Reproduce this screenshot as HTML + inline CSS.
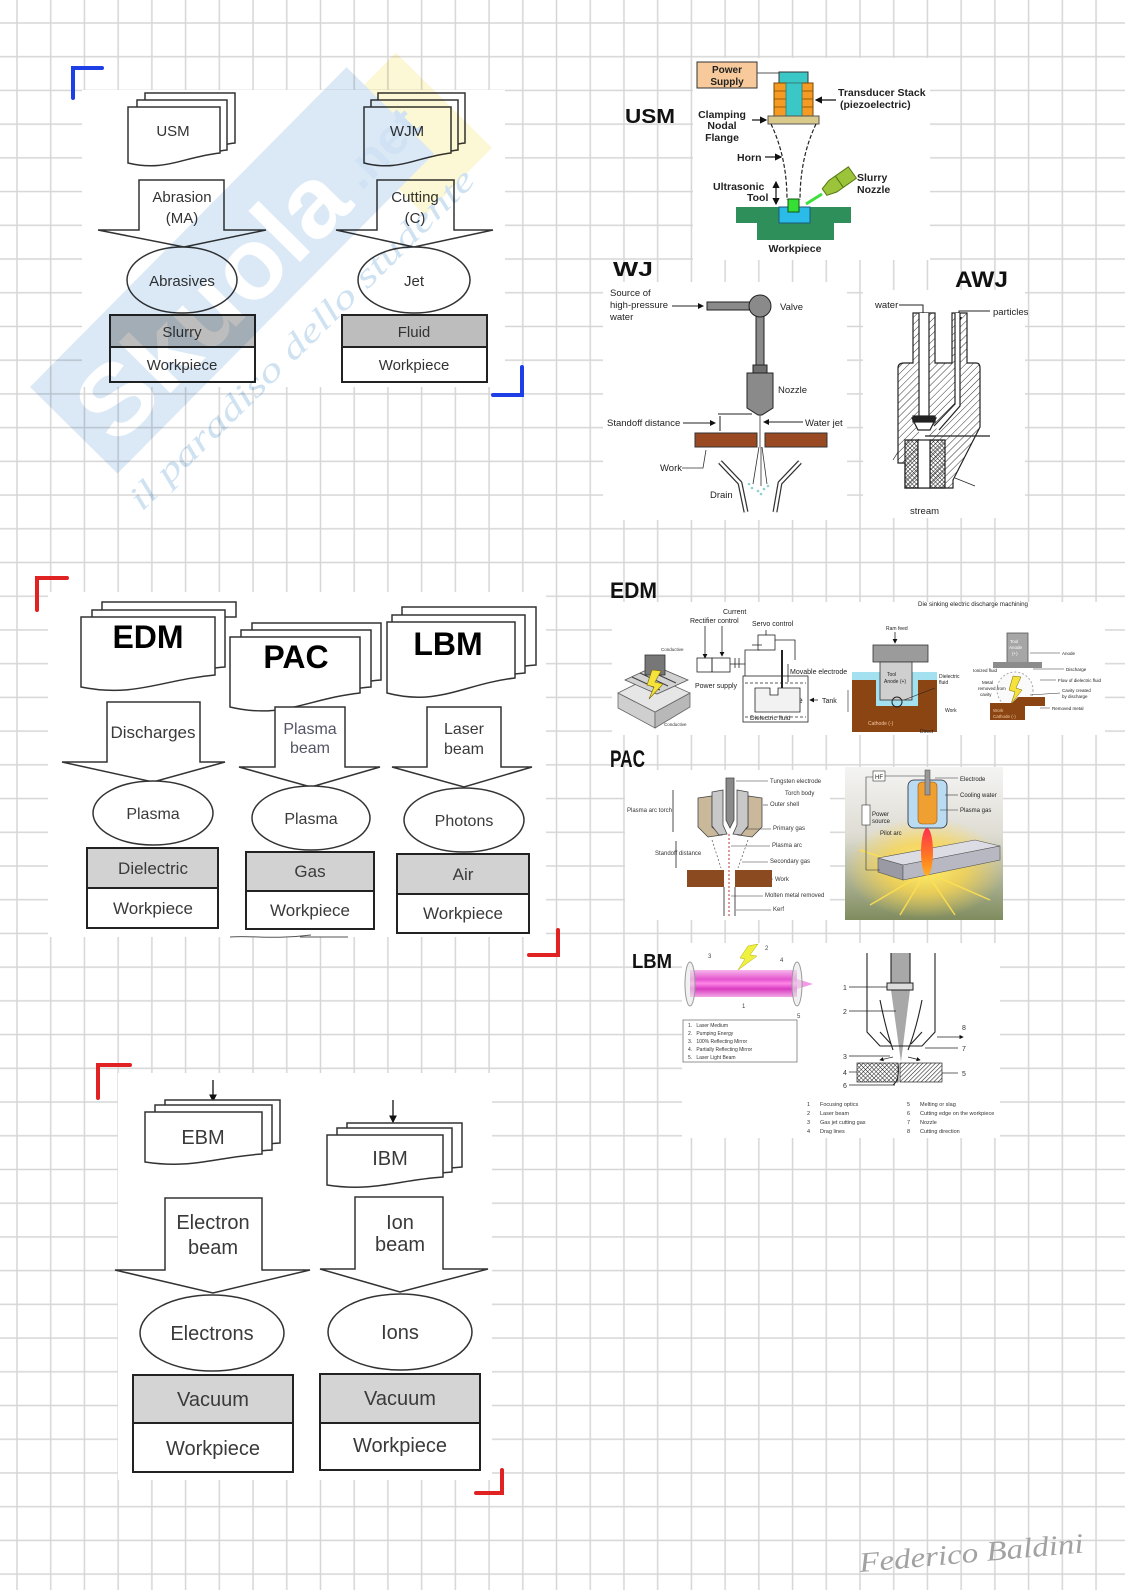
<!DOCTYPE html>
<html><head><meta charset="utf-8">
<style>
html,body{margin:0;padding:0;background:#fff;}
svg{display:block;}
text{font-family:"Liberation Sans",Arial,sans-serif;}
.ser{font-family:"Liberation Serif","Times New Roman",serif;}
.hw{font-family:"Liberation Sans",Arial,sans-serif;font-weight:bold;fill:#111;}
</style></head><body>
<svg width="1125" height="1590" viewBox="0 0 1125 1590" xmlns="http://www.w3.org/2000/svg">
<defs>
<pattern id="grid" x="15.5" y="21.5" width="33.72" height="33.72" patternUnits="userSpaceOnUse">
<path d="M1.5 0V33.72M0 1.5H33.72" stroke="#d6d6d6" stroke-width="1.5" fill="none"/>
</pattern>
<pattern id="hatch" width="5" height="5" patternUnits="userSpaceOnUse" patternTransform="rotate(45)">
<line x1="0" y1="0" x2="0" y2="5" stroke="#333" stroke-width="1"/>
</pattern>
<pattern id="xhatch" width="3" height="3" patternUnits="userSpaceOnUse" patternTransform="rotate(45)">
<path d="M0 0V3M0 0H3" stroke="#222" stroke-width="1"/>
</pattern>
<pattern id="dhatch" width="3" height="3" patternUnits="userSpaceOnUse" patternTransform="rotate(45)">
<line x1="0" y1="0" x2="0" y2="3" stroke="#222" stroke-width="1.2"/>
</pattern>
<marker id="ar" markerWidth="6" markerHeight="6" refX="5" refY="3" orient="auto"><path d="M0 0L6 3L0 6Z" fill="#111"/></marker>
<linearGradient id="pacbg" x1="0" y1="0" x2="0" y2="1"><stop offset="0" stop-color="#f4f4f4"/><stop offset="0.45" stop-color="#dedcd2"/><stop offset="1" stop-color="#7f8c5e"/></linearGradient>
<radialGradient id="glow" cx="0.5" cy="0.5" r="0.5"><stop offset="0" stop-color="#fff36a"/><stop offset="0.5" stop-color="#ffd84a" stop-opacity="0.75"/><stop offset="1" stop-color="#ffd84a" stop-opacity="0"/></radialGradient>
<linearGradient id="flame" x1="0" y1="0" x2="0" y2="1"><stop offset="0" stop-color="#ff3050"/><stop offset="0.6" stop-color="#ff7a20"/><stop offset="1" stop-color="#ffb020"/></linearGradient>
<linearGradient id="pink" x1="0" y1="0" x2="0" y2="1"><stop offset="0" stop-color="#f7b5ec"/><stop offset="0.35" stop-color="#e455cf"/><stop offset="0.5" stop-color="#ff86e8"/><stop offset="0.7" stop-color="#d83cc0"/><stop offset="1" stop-color="#f3a8e6"/></linearGradient>
</defs>

<rect width="1125" height="1590" fill="#fff"/>
<rect width="1125" height="1590" fill="url(#grid)"/>

<g fill="#fff">
<rect x="82" y="90" width="423" height="297"/>
<rect x="693" y="58" width="237" height="202"/>
<rect x="603" y="282" width="244" height="238"/>
<rect x="863" y="290" width="162" height="228"/>
<rect x="48" y="592" width="498" height="345"/>
<rect x="612" y="602" width="493" height="133"/>
<rect x="625" y="770" width="205" height="150"/>
<rect x="682" y="943" width="318" height="195"/>
<rect x="118" y="1073" width="374" height="407"/>
</g>

<!-- ========== TOP LEFT: USM / WJM ========== -->
<path d="M73 98V68H102" stroke="#1f3fe6" stroke-width="4" fill="none" stroke-linecap="round"/>
<path d="M522 367V395H493" stroke="#1f3fe6" stroke-width="4" fill="none" stroke-linecap="round"/>
<g fill="#fff" stroke="#333" stroke-width="1.5">
<path d="M145 93H235V143C199 147 181 162 145 153Z"/>
<path d="M137 100H227V150C191 154 173 169 137 160Z"/>
<path d="M128 107H220V153C183.2 157 164.8 172 128 163Z"/>
<path d="M378 93H465V143C430.2 147 412.8 162 378 153Z"/>
<path d="M371 100H458V150C423.2 154 405.8 169 371 160Z"/>
<path d="M364 107H451V153C416.2 157 398.8 172 364 163Z"/>
<polygon points="139,180 224,180 224,230 266,230 184,247 98,230 139,230"/>
<polygon points="377,180 454,180 454,230 493,230 414,247 336,230 377,230"/>
<ellipse cx="182" cy="280" rx="55" ry="33"/>
<ellipse cx="414" cy="280" rx="56" ry="33"/>
</g>
<g stroke="#222" stroke-width="2">
<rect x="110" y="315" width="145" height="32" fill="#bdbdbd"/>
<rect x="110" y="347" width="145" height="35" fill="#fff"/>
<rect x="342" y="315" width="145" height="32" fill="#bdbdbd"/>
<rect x="342" y="347" width="145" height="35" fill="#fff"/>
</g>
<g font-size="15" fill="#333" text-anchor="middle">
<text x="173" y="136">USM</text>
<text x="407" y="136">WJM</text>
<text x="182" y="202">Abrasion</text>
<text x="182" y="223">(MA)</text>
<text x="415" y="202">Cutting</text>
<text x="415" y="223">(C)</text>
<text x="182" y="286">Abrasives</text>
<text x="414" y="286">Jet</text>
<text x="182" y="337">Slurry</text>
<text x="182" y="370">Workpiece</text>
<text x="414" y="337">Fluid</text>
<text x="414" y="370">Workpiece</text>
</g>

<!-- ========== USM diagram (top right) ========== -->
<text class="hw" x="625" y="123" font-size="20" textLength="50" lengthAdjust="spacingAndGlyphs">USM</text>
<rect x="697" y="62" width="60" height="26" fill="#f7c99b" stroke="#333"/>
<g font-size="10" font-weight="bold" text-anchor="middle" fill="#222">
<text x="727" y="73">Power</text><text x="727" y="85">Supply</text></g>
<line x1="757" y1="73" x2="779" y2="73" stroke="#555"/>
<rect x="779" y="72" width="29" height="11" fill="#3cc7c7" stroke="#333"/>
<rect x="774" y="83" width="39" height="33" fill="#f59b23" stroke="#7a4a00"/>
<g stroke="#7a4a00" stroke-width="0.8"><line x1="774" y1="91" x2="813" y2="91"/><line x1="774" y1="99" x2="813" y2="99"/><line x1="774" y1="107" x2="813" y2="107"/></g>
<rect x="786" y="83" width="16" height="33" fill="#3cc7c7" stroke="#2a7a7a" stroke-width="0.8"/>
<rect x="768" y="116" width="51" height="8" fill="#d9c98a" stroke="#555"/>
<g stroke="#222" stroke-width="1.2" fill="none" stroke-dasharray="4 2">
<path d="M771 124C781 145 787 170 787 200"/><path d="M816 124C806 145 800 170 800 200"/></g>
<rect x="736" y="207" width="115" height="16" fill="#2f8f5b"/>
<rect x="757" y="223" width="77" height="17" fill="#2f8f5b"/>
<rect x="779" y="207" width="31" height="16" fill="#2bbbe8" stroke="#1a5a7a"/>
<rect x="788" y="199" width="11" height="13" fill="#35e035" stroke="#115511"/>
<line x1="806" y1="204" x2="822" y2="194" stroke="#3de03d" stroke-width="3"/>
<g transform="translate(836,184) rotate(-35)">
<polygon points="-14,-4 -4,-7 20,-7 20,7 -4,7 -14,4" fill="#9bc43a" stroke="#557711"/>
<line x1="4" y1="-7" x2="4" y2="7" stroke="#557711"/></g>
<g font-size="10.5" font-weight="bold" fill="#222">
<text x="838" y="96">Transducer Stack</text>
<text x="840" y="108">(piezoelectric)</text>
<text x="722" y="118" text-anchor="middle">Clamping</text>
<text x="722" y="129" text-anchor="middle">Nodal</text>
<text x="722" y="141" text-anchor="middle">Flange</text>
<text x="737" y="161">Horn</text>
<text x="713" y="190">Ultrasonic</text>
<text x="747" y="201">Tool</text>
<text x="857" y="181">Slurry</text>
<text x="857" y="193">Nozzle</text>
<text x="795" y="252" text-anchor="middle">Workpiece</text>
</g>
<g stroke="#111" stroke-width="1.2" marker-end="url(#ar)">
<line x1="836" y1="100" x2="816" y2="100"/>
<line x1="752" y1="120" x2="766" y2="120"/>
<line x1="765" y1="157" x2="781" y2="157"/>
<line x1="776" y1="193" x2="776" y2="182"/>
<line x1="776" y1="193" x2="776" y2="204"/>
</g>

<!-- ========== WJ ========== -->
<text class="hw" x="613" y="276" font-size="20" textLength="40" lengthAdjust="spacingAndGlyphs">WJ</text>
<g font-size="9.5" fill="#222">
<text x="610" y="296">Source of</text><text x="610" y="308">high-pressure</text><text x="610" y="320">water</text>
<text x="780" y="310">Valve</text><text x="778" y="393">Nozzle</text>
<text x="607" y="426">Standoff distance</text><text x="805" y="426">Water jet</text>
<text x="660" y="471">Work</text><text x="710" y="498">Drain</text>
</g>
<g stroke="#222" stroke-width="1" marker-end="url(#ar)">
<line x1="672" y1="306" x2="703" y2="306"/>
<line x1="683" y1="423" x2="715" y2="423"/>
<line x1="803" y1="422" x2="764" y2="422"/>
</g>
<rect x="707" y="302" width="46" height="8" fill="#8a8a8a" stroke="#222"/>
<rect x="756" y="316" width="8" height="49" fill="#8a8a8a" stroke="#222"/>
<circle cx="760" cy="306" r="11" fill="#8a8a8a" stroke="#222"/>
<rect x="753" y="365" width="14" height="8" fill="#6e6e6e" stroke="#222"/>
<path d="M747 373H773V408L762 415H758L747 408Z" fill="#8a8a8a" stroke="#222"/>
<line x1="718" y1="414" x2="752" y2="414" stroke="#222"/>
<g stroke="#222"><line x1="720" y1="416" x2="720" y2="431"/></g>
<rect x="695" y="433" width="62" height="14" fill="#9a4a22" stroke="#333"/>
<rect x="765" y="433" width="62" height="14" fill="#9a4a22" stroke="#333"/>
<g stroke="#333" stroke-width="0.8" fill="none">
<line x1="760" y1="415" x2="760" y2="447"/>
<path d="M759 447L753 484M761 447L761 486M762 447L767 484"/>
<path d="M682 468H703L706 450"/>
</g>
<g fill="#8fd0d0"><circle cx="752" cy="488" r="1.3"/><circle cx="758" cy="491" r="1.3"/><circle cx="764" cy="489" r="1.3"/><circle cx="768" cy="486" r="1.3"/><circle cx="749" cy="484" r="1.3"/><circle cx="761" cy="494" r="1.3"/></g>
<g fill="none" stroke-linejoin="round">
<polyline points="720,462 740,483 746,512" stroke="#333" stroke-width="5"/>
<polyline points="720,462 740,483 746,512" stroke="#fff" stroke-width="2.5"/>
<polyline points="800,462 780,483 775,512" stroke="#333" stroke-width="5"/>
<polyline points="800,462 780,483 775,512" stroke="#fff" stroke-width="2.5"/>
</g>

<!-- ========== AWJ ========== -->
<text class="hw" x="955" y="287" font-size="22" textLength="53" lengthAdjust="spacingAndGlyphs">AWJ</text>
<g font-size="9.5" fill="#222"><text x="875" y="308">water</text><text x="993" y="315">particles</text><text x="910" y="514">stream</text></g>
<path d="M899 305H923V322" stroke="#222" fill="none" marker-end="url(#ar)"/>
<path d="M990 311H959V322" stroke="#222" fill="none" marker-end="url(#ar)"/>
<g stroke="#222" stroke-width="1.2">
<path d="M898 368Q898 363 904 363H913V313H935V363H952V313H967V363H976Q980 363 980 368V427L953 480V488H905V463H898Z" fill="url(#hatch)"/>
<rect x="919" y="313" width="10" height="150" fill="#fff" stroke="none"/>
<line x1="919" y1="313" x2="919" y2="420"/><line x1="929" y1="313" x2="929" y2="420"/>
<path d="M957 313V405L936 428" fill="none" stroke="#fff" stroke-width="5"/>
<path d="M955 313V404L934 426M960 313V406L939 430" fill="none"/>
<polygon points="912,418 936,418 930,430 918,430" fill="#fff"/>
<rect x="913" y="416" width="22" height="6" fill="#222"/>
<polygon points="905,440 918,440 918,488 905,488" fill="url(#xhatch)"/>
<polygon points="930,440 945,440 945,488 930,488" fill="url(#xhatch)"/>
<rect x="918" y="440" width="12" height="48" fill="#fff"/>
<line x1="925" y1="436" x2="990" y2="436"/>
<line x1="893" y1="460" x2="898" y2="452" stroke-width="0.7"/>
<line x1="955" y1="478" x2="975" y2="486" stroke-width="0.7"/>
</g>

<!-- ========== EDM / PAC / LBM left block ========== -->
<path d="M37 610V578H67" stroke="#e02222" stroke-width="4" fill="none" stroke-linecap="round"/>
<path d="M558 930V955H529" stroke="#e02222" stroke-width="4" fill="none" stroke-linecap="round"/>
<g fill="#fff" stroke="#333" stroke-width="1.5">
<rect x="102" y="602" width="134" height="15"/>
<path d="M92 610H225V667C171.8 671 145.2 686 92 677Z"/>
<path d="M81 617H215V675C161.4 679.8 134.6 697.8 81 687Z"/>
<path d="M252 623H381V680C329.4 684 303.6 699 252 690Z"/>
<path d="M241 630H371V687C319 691 293 706 241 697Z"/>
<path d="M230 637H360V693C308 698.6 282 719.6 230 707Z"/>
<path d="M402 607H536V665C482.4 669 455.6 684 402 675Z"/>
<path d="M392 615H525V673C471.8 677 445.2 692 392 683Z"/>
<path d="M387 622H515V678C463.8 684 438.2 706.5 387 693Z"/>
<polygon points="107,702 200,702 200,762 225,762 153,782 62,762 107,762"/>
<polygon points="275,707 345,707 345,767 380,767 311,787 239,767 275,767"/>
<polygon points="427,707 501,707 501,767 532,767 464,787 392,767 427,767"/>
<ellipse cx="153" cy="813" rx="60" ry="32"/>
<ellipse cx="311" cy="818" rx="59" ry="32"/>
<ellipse cx="464" cy="820" rx="60" ry="32"/>
</g>
<g stroke="#222" stroke-width="2">
<rect x="87" y="848" width="131" height="40" fill="#d2d2d2"/><rect x="87" y="888" width="131" height="40" fill="#fff"/>
<rect x="246" y="852" width="128" height="39" fill="#d2d2d2"/><rect x="246" y="891" width="128" height="38" fill="#fff"/>
<rect x="397" y="854" width="132" height="40" fill="#d2d2d2"/><rect x="397" y="894" width="132" height="39" fill="#fff"/>
</g>
<path d="M230 937C250 935 272 940 311 935M300 937H348" stroke="#555" fill="none"/>
<g font-weight="bold" fill="#000" text-anchor="middle">
<text x="148" y="648" font-size="32">EDM</text>
<text x="296" y="668" font-size="32">PAC</text>
<text x="448" y="655" font-size="32">LBM</text>
</g>
<g font-size="17" fill="#3a3a3a" text-anchor="middle">
<text x="153" y="738">Discharges</text>
<text x="310" y="734" fill="#556" font-size="16">Plasma</text>
<text x="310" y="753" fill="#556" font-size="16">beam</text>
<text x="464" y="734" font-size="16">Laser</text>
<text x="464" y="754" font-size="16">beam</text>
<text x="153" y="819" font-size="16">Plasma</text>
<text x="311" y="824" font-size="16">Plasma</text>
<text x="464" y="826" font-size="16">Photons</text>
<text x="153" y="874">Dielectric</text>
<text x="153" y="914">Workpiece</text>
<text x="310" y="877">Gas</text>
<text x="310" y="916">Workpiece</text>
<text x="463" y="880">Air</text>
<text x="463" y="919">Workpiece</text>
</g>

<!-- ========== EDM right ========== -->
<text class="hw" x="610" y="598" font-size="22" textLength="47" lengthAdjust="spacingAndGlyphs">EDM</text>
<polygon points="618,708 655,728 655,712 618,693" fill="#cfcfcf" stroke="#666" stroke-width="0.8"/>
<polygon points="655,712 690,693 690,707 655,728" fill="#b8b8b8" stroke="#666" stroke-width="0.8"/>
<polygon points="618,693 652,676 690,693 655,712" fill="#e6e6e6" stroke="#666" stroke-width="0.8"/>
<polygon points="625,680 655,666 688,680 657,694" fill="#d2d2d2" stroke="#555" stroke-width="0.8"/>
<g stroke="#444" stroke-width="1.2"><line x1="632" y1="677" x2="660" y2="690"/><line x1="640" y1="673" x2="668" y2="686"/><line x1="648" y1="670" x2="676" y2="683"/></g>
<rect x="645" y="655" width="20" height="20" fill="#777" stroke="#333" stroke-width="0.8"/>
<polygon points="652,670 661,671 655,682 663,684 649,699 654,687 647,685" fill="#f5e23a" stroke="#776600" stroke-width="0.6"/>
<g font-size="4.5" fill="#333"><text x="661" y="651">Conductive</text><text x="664" y="726">Conductive</text></g>
<g class="ser" font-size="7" fill="#222">
<text x="723" y="614">Current</text><text x="690" y="623">Rectifier control</text>
<text x="752" y="626">Servo control</text><text x="790" y="674">Movable electrode</text>
<text x="695" y="688">Power supply</text><text x="765" y="703" font-size="8">Workpiece</text>
<text x="750" y="720" font-size="6.5">Dielectric fluid</text><text x="822" y="703">Tank</text>
</g>
<g stroke="#222" stroke-width="0.8" fill="none">
<line x1="705" y1="626" x2="705" y2="658" marker-end="url(#ar)"/>
<line x1="722" y1="626" x2="722" y2="656" marker-end="url(#ar)"/>
<rect x="697" y="658" width="15" height="14"/>
<rect x="712" y="658" width="18" height="14"/>
<path d="M730 664H745V650H760M745 664V676M735 658V668M739 658V668"/>
<rect x="758" y="635" width="17" height="15"/>
<path d="M775 640H795V660M766 630V635M762 645H752"/>
<line x1="782" y1="650" x2="782" y2="690" stroke-width="2"/>
<rect x="743" y="676" width="65" height="46"/>
<path d="M745 683H806M745 717H806" stroke-dasharray="3 2"/>
<path d="M755 688H770V695H778V688H800V712H755Z" fill="#f2f2f2"/>
<line x1="818" y1="700" x2="810" y2="700" marker-end="url(#ar)"/>
<line x1="788" y1="664" x2="788" y2="682"/>
</g>
<text x="918" y="606" font-size="6.5" fill="#222" textLength="110" lengthAdjust="spacingAndGlyphs">Die sinking electric discharge machining</text>
<text x="886" y="630" font-size="5" fill="#222">Ram feed</text>
<line x1="895" y1="632" x2="895" y2="643" stroke="#222" stroke-width="0.8" marker-end="url(#ar)"/>
<rect x="852" y="672" width="85" height="10" fill="#a3e0f0"/>
<path d="M852 680H876V706H918V680H937V732H852Z" fill="#8b4513"/>
<rect x="876" y="680" width="42" height="26" fill="#a3e0f0"/>
<rect x="873" y="645" width="55" height="17" fill="#9b9b9b" stroke="#333" stroke-width="0.8"/>
<rect x="880" y="662" width="32" height="38" fill="#cfcfcf" stroke="#333" stroke-width="0.8"/>
<circle cx="897" cy="702" r="5" fill="none" stroke="#222"/>
<g font-size="5" fill="#222"><text x="887" y="676">Tool</text><text x="884" y="683">Anode (+)</text>
<text x="939" y="678">Dielectric</text><text x="939" y="684">fluid</text><text x="945" y="712">Work</text><text x="920" y="733">Direct</text></g>
<text x="868" y="725" font-size="5" fill="#f4c8a0">Cathode (-)</text>
<line x1="904" y1="700" x2="935" y2="688" stroke="#222" stroke-width="0.6"/>
<line x1="848" y1="690" x2="848" y2="712" stroke="#222" stroke-width="0.6"/>
<rect x="1007" y="633" width="21" height="30" fill="#a6a6a6" stroke="#555" stroke-width="0.8"/>
<g font-size="4.5" fill="#fff"><text x="1010" y="643">Tool</text><text x="1009" y="649">Anode</text><text x="1012" y="655">(+)</text></g>
<rect x="993" y="662" width="49" height="6" fill="#8c8c8c"/>
<circle cx="1015" cy="690" r="18" fill="#fafafa" stroke="#aaa" stroke-dasharray="2 2"/>
<polygon points="1013,676 1021,677 1016,688 1022,690 1011,704 1015,692 1009,690" fill="#f5e23a" stroke="#776600" stroke-width="0.5"/>
<path d="M990 703H1012L1018 697H1045V706H1025V720H990Z" fill="#8b4513"/>
<g font-size="4.5" fill="#f4c8a0"><text x="993" y="712">Work</text><text x="993" y="718">Cathode (-)</text></g>
<g font-size="4.5" fill="#222">
<text x="1062" y="655">Anode</text><text x="1066" y="671">Discharge</text><text x="1058" y="682">Flow of dielectric fluid</text>
<text x="1062" y="692">Cavity created</text><text x="1062" y="698">by discharge</text><text x="1052" y="710">Removed metal</text>
<text x="973" y="672">Ionized fluid</text><text x="982" y="684">Metal</text><text x="978" y="690">removed from</text><text x="980" y="696">cavity</text>
</g>
<g stroke="#333" stroke-width="0.5"><line x1="1030" y1="653" x2="1060" y2="653"/><line x1="1033" y1="669" x2="1064" y2="669"/><line x1="1040" y1="680" x2="1056" y2="680"/><line x1="1030" y1="695" x2="1060" y2="693"/><line x1="1040" y1="708" x2="1050" y2="708"/></g>

<!-- ========== PAC right ========== -->
<text class="hw" x="610" y="767" font-size="24" textLength="35" lengthAdjust="spacingAndGlyphs">PAC</text>
<g stroke="#444" stroke-width="0.8">
<polygon points="698,798 712,796 712,827 722,835 708,837 698,827" fill="#c9b89a"/>
<polygon points="762,798 748,796 748,827 738,835 752,837 762,827" fill="#c9b89a"/>
<polygon points="712,792 723,790 723,825 727,834 719,835 712,826" fill="#c8c8c8"/>
<polygon points="748,792 737,790 737,825 733,834 741,835 748,826" fill="#c8c8c8"/>
<polygon points="726,778 734,778 734,820 730,828 726,820" fill="#8a8a8a"/>
</g>
<line x1="729" y1="834" x2="729" y2="916" stroke="#c03030" stroke-dasharray="2 2"/>
<g stroke="#555" stroke-width="0.7" stroke-dasharray="2 2"><line x1="712" y1="840" x2="721" y2="868"/><line x1="748" y1="840" x2="738" y2="868"/></g>
<rect x="687" y="870" width="37" height="17" fill="#8b4a20"/>
<rect x="735" y="870" width="37" height="17" fill="#8b4a20"/>
<g stroke="#222" stroke-width="0.8"><line x1="724" y1="887" x2="724" y2="916"/><line x1="735" y1="887" x2="735" y2="916"/>
<line x1="673" y1="790" x2="673" y2="832"/><line x1="676" y1="841" x2="676" y2="868"/></g>
<g font-size="6" fill="#333">
<text x="770" y="783">Tungsten electrode</text><text x="785" y="795">Torch body</text><text x="770" y="806">Outer shell</text>
<text x="773" y="830">Primary gas</text><text x="772" y="847">Plasma arc</text><text x="770" y="863">Secondary gas</text>
<text x="775" y="881">Work</text><text x="765" y="897">Molten metal removed</text><text x="773" y="911">Kerf</text>
<text x="627" y="812">Plasma arc torch</text><text x="655" y="855">Standoff distance</text>
</g>
<g stroke="#333" stroke-width="0.6">
<line x1="736" y1="781" x2="768" y2="781"/><line x1="763" y1="805" x2="768" y2="805"/><line x1="745" y1="829" x2="771" y2="829"/>
<line x1="731" y1="846" x2="770" y2="846"/><line x1="742" y1="862" x2="768" y2="862"/><line x1="772" y1="879" x2="773" y2="879"/>
<line x1="731" y1="896" x2="763" y2="896"/><line x1="736" y1="910" x2="771" y2="910"/>
</g>
<rect x="845" y="767" width="158" height="153" fill="url(#pacbg)"/>
<ellipse cx="925" cy="868" rx="80" ry="50" fill="url(#glow)"/>
<g stroke="#ffe050" stroke-width="1.5" opacity="0.9">
<line x1="926" y1="872" x2="870" y2="905"/><line x1="926" y1="872" x2="900" y2="915"/><line x1="926" y1="872" x2="955" y2="915"/><line x1="926" y1="872" x2="990" y2="900"/><line x1="926" y1="872" x2="995" y2="845"/><line x1="926" y1="872" x2="860" y2="850"/></g>
<polygon points="878,858 975,840 1000,846 903,865" fill="#dcdce4" stroke="#555" stroke-width="0.6"/>
<polygon points="878,858 903,865 903,880 878,872" fill="#9a9aa4" stroke="#555" stroke-width="0.6"/>
<polygon points="903,865 1000,846 1000,860 903,880" fill="#b8b8c2" stroke="#555" stroke-width="0.6"/>
<rect x="908" y="780" width="39" height="48" rx="6" fill="#b9dcf2" stroke="#223" stroke-width="0.8"/>
<rect x="918" y="782" width="19" height="42" rx="4" fill="#f0a030" stroke="#a05010" stroke-width="0.6"/>
<rect x="925" y="770" width="5" height="25" fill="#999" stroke="#444" stroke-width="0.5"/>
<ellipse cx="927" cy="852" rx="6" ry="24" fill="url(#flame)"/>
<rect x="873" y="771" width="12" height="10" fill="#fff" stroke="#333" stroke-width="0.6"/>
<text x="875" y="779" font-size="6" fill="#222">HF</text>
<g stroke="#333" stroke-width="0.6" fill="none"><path d="M885 776H925M866 812V777H873M866 822V870H880"/>
<rect x="862" y="805" width="8" height="20" fill="#fff"/><line x1="935" y1="778" x2="958" y2="778"/><line x1="945" y1="795" x2="958" y2="795"/><line x1="940" y1="810" x2="958" y2="810"/></g>
<g font-size="6" fill="#222"><text x="960" y="781">Electrode</text><text x="960" y="797">Cooling water</text><text x="960" y="812">Plasma gas</text>
<text x="872" y="816">Power</text><text x="872" y="823">source</text><text x="880" y="835">Pilot arc</text></g>

<!-- ========== LBM right ========== -->
<text class="hw" x="632" y="968" font-size="20" textLength="40" lengthAdjust="spacingAndGlyphs">LBM</text>
<rect x="690" y="970" width="107" height="27" fill="url(#pink)"/>
<polygon points="797,979 813,984 797,989" fill="#f080e0" opacity="0.8"/>
<ellipse cx="690" cy="984" rx="5" ry="22" fill="#e8e8e8" fill-opacity="0.6" stroke="#999"/>
<ellipse cx="797" cy="984" rx="5" ry="22" fill="#e8e8e8" fill-opacity="0.6" stroke="#999"/>
<polygon points="748,946 758,944 750,955 757,956 738,970 745,959 740,958" fill="#f0f040" stroke="#b0b000" stroke-width="0.5"/>
<g font-size="6" fill="#444"><text x="765" y="950">2</text><text x="708" y="958">3</text><text x="780" y="962">4</text><text x="742" y="1008">1</text><text x="797" y="1018">5</text></g>
<rect x="683" y="1020" width="114" height="42" fill="#fff" stroke="#666" stroke-width="0.7"/>
<g font-size="5" fill="#333">
<text x="688" y="1027">1.&#160;&#160;&#160;Laser Medium</text><text x="688" y="1035">2.&#160;&#160;&#160;Pumping Energy</text>
<text x="688" y="1043">3.&#160;&#160;&#160;100% Reflecting Mirror</text><text x="688" y="1051">4.&#160;&#160;&#160;Partially Reflecting Mirror</text>
<text x="688" y="1059">5.&#160;&#160;&#160;Laser Light Beam</text></g>
<polygon points="891,953 910,953 910,990 901,1062 891,990" fill="#a8a8a8"/>
<g stroke="#222" stroke-width="1.1" fill="none">
<path d="M867 953V1032L880 1046H922L935 1032V953"/>
<line x1="891" y1="953" x2="891" y2="983"/><line x1="910" y1="953" x2="910" y2="983"/>
<path d="M880 1000Q886 1030 893 1050M922 1000Q916 1030 908 1050"/>
<path d="M880 1032L891 1044M922 1032L911 1044"/>
</g>
<rect x="887" y="983" width="26" height="7" fill="#ddd" stroke="#222"/>
<rect x="857" y="1063" width="41" height="19" fill="url(#xhatch)" stroke="#222" stroke-width="0.7"/>
<rect x="900" y="1063" width="42" height="19" fill="url(#dhatch)" stroke="#222" stroke-width="0.7"/>
<path d="M898 1063Q900 1080 893 1085" stroke="#222" fill="none"/>
<g stroke="#222" stroke-width="0.7">
<line x1="849" y1="987" x2="887" y2="987"/><line x1="849" y1="1011" x2="896" y2="1011"/><line x1="849" y1="1056" x2="890" y2="1056"/>
<line x1="849" y1="1072" x2="857" y2="1072"/><line x1="849" y1="1085" x2="895" y2="1085"/>
<line x1="925" y1="1048" x2="958" y2="1048"/><line x1="942" y1="1073" x2="958" y2="1073"/>
<line x1="937" y1="1037" x2="963" y2="1037" marker-end="url(#ar)"/>
<line x1="893" y1="1057" x2="880" y2="1060" marker-end="url(#ar)"/><line x1="908" y1="1057" x2="920" y2="1060" marker-end="url(#ar)"/>
</g>
<g font-size="7" fill="#333"><text x="843" y="990">1</text><text x="843" y="1014">2</text><text x="843" y="1059">3</text><text x="843" y="1075">4</text><text x="843" y="1088">6</text>
<text x="962" y="1030">8</text><text x="962" y="1051">7</text><text x="962" y="1076">5</text></g>
<g font-size="5.5" fill="#333">
<text x="807" y="1106">1</text><text x="820" y="1106">Focusing optics</text>
<text x="807" y="1115">2</text><text x="820" y="1115">Laser beam</text>
<text x="807" y="1124">3</text><text x="820" y="1124">Gas jet cutting gas</text>
<text x="807" y="1133">4</text><text x="820" y="1133">Drag lines</text>
<text x="907" y="1106">5</text><text x="920" y="1106">Melting or slag</text>
<text x="907" y="1115">6</text><text x="920" y="1115">Cutting edge on the workpiece</text>
<text x="907" y="1124">7</text><text x="920" y="1124">Nozzle</text>
<text x="907" y="1133">8</text><text x="920" y="1133">Cutting direction</text>
</g>

<!-- ========== EBM / IBM ========== -->
<path d="M98 1098V1065H130" stroke="#e02222" stroke-width="4" fill="none" stroke-linecap="round"/>
<path d="M502 1470V1493H476" stroke="#e02222" stroke-width="4" fill="none" stroke-linecap="round"/>
<g stroke="#111" stroke-width="1.3" marker-end="url(#ar)">
<line x1="213" y1="1080" x2="213" y2="1101"/><line x1="393" y1="1100" x2="393" y2="1122"/></g>
<g fill="#fff" stroke="#333" stroke-width="1.5">
<path d="M165 1100H280V1143C234 1145.8 211 1156.3 165 1150Z"/>
<path d="M155 1105H272V1150C225.2 1152.8 201.8 1163.3 155 1157Z"/>
<path d="M145 1112H262V1154C215.2 1157.2 191.8 1169.2 145 1162Z"/>
<path d="M347 1123H462V1167C416 1170.2 393 1182.2 347 1175Z"/>
<path d="M337 1128H452V1172C406 1175.2 383 1187.2 337 1180Z"/>
<path d="M327 1135H443V1177C396.6 1180.2 373.4 1192.2 327 1185Z"/>
<polygon points="165,1198 262,1198 262,1270 310,1270 213,1293 115,1270 165,1270"/>
<polygon points="355,1197 443,1197 443,1269 488,1269 400,1292 320,1269 355,1269"/>
<ellipse cx="212" cy="1333" rx="72" ry="38"/>
<ellipse cx="400" cy="1332" rx="72" ry="38"/>
</g>
<g stroke="#222" stroke-width="2">
<rect x="133" y="1375" width="160" height="48" fill="#d4d4d4"/><rect x="133" y="1423" width="160" height="49" fill="#fff"/>
<rect x="320" y="1374" width="160" height="49" fill="#d4d4d4"/><rect x="320" y="1423" width="160" height="47" fill="#fff"/>
</g>
<g font-size="20" fill="#3a3a3a" text-anchor="middle">
<text x="203" y="1144">EBM</text><text x="390" y="1165">IBM</text>
<text x="213" y="1229">Electron</text><text x="213" y="1254">beam</text>
<text x="400" y="1229">Ion</text><text x="400" y="1251">beam</text>
<text x="212" y="1340">Electrons</text><text x="400" y="1339">Ions</text>
<text x="213" y="1406">Vacuum</text><text x="213" y="1455">Workpiece</text>
<text x="400" y="1405">Vacuum</text><text x="400" y="1452">Workpiece</text>
</g>

<!-- ========== watermark ========== -->
<g style="mix-blend-mode:multiply">
<g transform="translate(30,387) rotate(-45.3)">
<rect x="400" y="25" width="95" height="135" fill="#fcf7d4"/>
<rect x="0" y="0" width="450" height="123" fill="#dbe9f6"/>
<text x="18" y="104" font-size="100" font-weight="bold" fill="#fff" textLength="340" lengthAdjust="spacingAndGlyphs">Skuola</text>
<text x="372" y="98" font-size="50" font-weight="bold" fill="#d0e2f3">.net</text>
</g>
<text transform="translate(142,512) rotate(-44.6)" class="ser" font-style="italic" font-size="34" fill="#cfe2f2" textLength="470" lengthAdjust="spacingAndGlyphs">il paradiso dello studente</text>
</g>

<text transform="translate(860,1572) rotate(-5)" class="ser" font-style="italic" font-size="28" fill="#a2a2a2" textLength="225" lengthAdjust="spacingAndGlyphs">Federico Baldini</text>
</svg>
</body></html>
